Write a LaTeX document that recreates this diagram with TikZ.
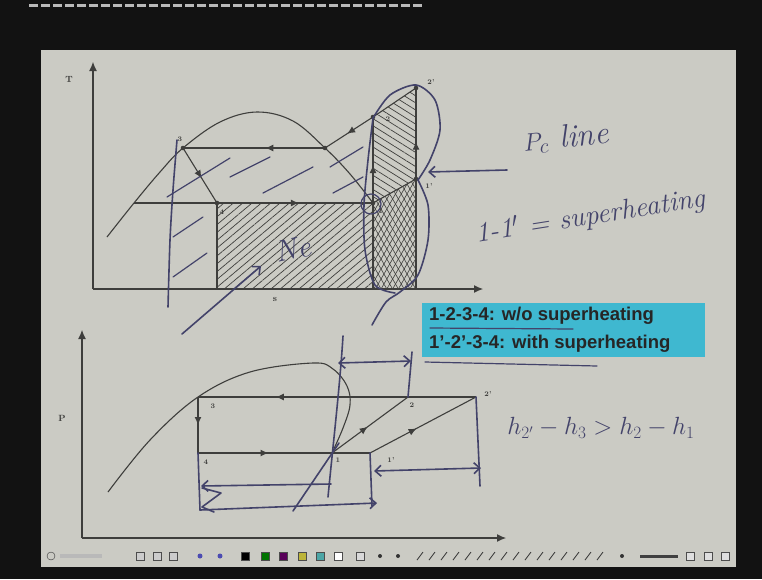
\documentclass[tikz,border=0pt]{standalone}
\usepackage{fontspec}
\setsansfont{Liberation Sans}
\usetikzlibrary{arrows.meta,positioning,patterns.meta,decorations.markings}

\definecolor{slidegray}{HTML}{CBCBC4}
\definecolor{printgray}{HTML}{3E3E3C}
\definecolor{ink}{HTML}{43436A}
\definecolor{notecyan}{HTML}{3FB8D0}

\begin{document}
\begin{tikzpicture}[
  x=1pt,y=-1pt,>=Latex,
  curve/.style={draw=printgray,line width=1.1pt},
  hand/.style={draw=ink,line width=1.6pt,line cap=round,line join=round},
  handarrow/.style={hand,-{Straight Barb[length=6pt,width=11pt]}},
  handboth/.style={hand,{Straight Barb[length=6pt,width=11pt]}-{Straight Barb[length=6pt,width=11pt]}},
  handtext/.style={text=ink,inner sep=0pt},
  flow/.style={postaction={decorate},decoration={markings,
    mark=at position #1 with {\arrow{Latex[length=8pt,width=7pt]}}}},
  flow/.default=0.5,
  num/.style={font=\fontsize{7}{8}\selectfont\bfseries,text=printgray,inner sep=1pt},
  axlabel/.style={font=\fontsize{9}{10}\selectfont\bfseries,text=printgray},
  hatchbelow/.style={pattern={Lines[angle=40,distance=6pt,line width=0.7pt]},pattern color=printgray},
  hatchabove/.style={pattern={Lines[angle=-32,distance=6pt,line width=0.7pt]},pattern color=printgray},
  crossA/.style={pattern={Lines[angle=60,distance=5pt,line width=0.6pt]},pattern color=printgray},
  crossB/.style={pattern={Lines[angle=-60,distance=5pt,line width=0.6pt]},pattern color=printgray},
  icon/.style={minimum size=8pt,inner sep=0pt,draw=gray!60!black,line width=0.5pt}
]
% screen and slide
\fill[black!93] (0,0) rectangle (762,579);
\fill[slidegray] (41,50) rectangle (736,567);
\draw[gray!55,line width=3pt,dash pattern=on 9pt off 3pt] (29,5) -- (422,5);
\useasboundingbox (0,0) rectangle (762,579);

% T-s chart
\coordinate (tO) at (93,289);
\coordinate (tTop) at (93,62);
\coordinate (tEnd) at (483,289);
\coordinate (t3) at (183,148);
\coordinate (tg) at (325,148);
\coordinate (tf) at (134,203);
\coordinate (t4) at (217,203);
\coordinate (t1) at (373,203);
\coordinate (t2) at (373,117);
\coordinate (t2s) at (416,88);
\coordinate (t1s) at (416,179);
\coordinate (t4b) at (217,289);
\coordinate (t1b) at (373,289);
\coordinate (t1sb) at (416,289);

\fill[hatchbelow] (t4) rectangle (t1b);
\fill[hatchabove] (t2) -- (t2s) -- (t1s) -- (t1) -- cycle;
\fill[crossA] (t1) -- (t1s) -- (t1sb) -- (t1b) -- cycle;
\fill[crossB] (t1) -- (t1s) -- (t1sb) -- (t1b) -- cycle;

\draw[curve,-{Latex[length=9pt,width=8pt]}] (tO) -- (tTop);
\draw[curve,-{Latex[length=9pt,width=8pt]}] (tO) -- (tEnd);
\node[axlabel] (tlabT) at (69,79) {T};
\node[axlabel] (tlabs) at (275,299) {s};

\draw[curve] plot[smooth,tension=0.6] coordinates {(107,237) (134,203) (160,172) (183,148) (220,122) (257,112) (293,121) (325,148) (350,174) (373,203)};
\draw[curve,flow=0.42] (tg) -- (t3);
\draw[curve,flow=0.55] (t3) -- (t4);
\draw[curve,flow=0.69] (tf) -- (t1);
\draw[curve] (t2s) -- (t2);
\draw[curve,flow=0.54] (t2) -- (tg);
\draw[curve] (t1b) -- (t1);
\draw[curve,flow=0.44] (t1) -- (t2);
\draw[curve] (t4b) -- (t4);
\draw[curve] (t1sb) -- (t1s);
\draw[curve,flow=0.41] (t1s) -- (t2s);
\draw[curve] (t1) -- (t1s);
\foreach \p in {t3,tg,t4,t1,t2,t2s,t1s} \fill[printgray] (\p) circle (2.3pt);

\node[num] (tn3) at (180,139) {3};
\node[num] (tn4) at (222,212) {4};
\node[num] (tn2) at (388,119) {2};
\node[num] (tn1) at (381,211) {1};
\node[num] (tn1s) at (429,186) {1'};
\node[num] (tn2s) at (431,82) {2'};

% handwriting on the T-s chart
\foreach \a/\b/\c/\d in {167/197/230/158, 230/177/270/157, 263/193/313/167,
  330/167/363/147, 333/193/363/177, 173/237/203/217, 173/277/207/253}
  \draw[hand,line width=1.2pt] (\a,\b) -- (\c,\d);
\draw[hand] plot[smooth] coordinates {(177,140) (173,190) (170,240) (168,307)};
\draw[hand] plot[smooth] coordinates {(373,118) (390,95) (416,85) (435,100) (440,130) (430,160) (418,180)};
\draw[hand] plot[smooth] coordinates {(418,180) (428,205) (428,240) (418,275) (400,292) (386,302) (372,325)};
\draw[hand] plot[smooth] coordinates {(373,118) (368,160) (364,205) (365,250) (375,285) (395,293)};
\draw[hand,line width=1.2pt] (371,204) circle (10pt);

\coordinate (qeTail) at (182,334);
\coordinate (qeTip) at (261,266);
\draw[handarrow] (qeTail) -- (qeTip);
\node[handtext,font=\fontsize{30}{32}\selectfont\itshape,rotate=12] (qe) at (293,249) {Ne};

\coordinate (pcTail) at (507,170);
\coordinate (pcTip) at (428,172);
\draw[handarrow] (pcTail) -- (pcTip);
\node[handtext,font=\fontsize{32}{34}\selectfont\itshape,rotate=6] (pcline) at (566,138) {$P_c$ line};
\node[handtext,font=\fontsize{28}{30}\selectfont\itshape,rotate=9] (superh) at (590,217) {1-1$'$ = superheating};

% note box
\node[fill=notecyan,anchor=north west,minimum width=283pt,minimum height=54pt,inner sep=0pt] (note) at (422,303) {};
\node[anchor=west,font=\sffamily\bfseries\fontsize{18.5}{20}\selectfont,text=black!85,inner sep=0pt] (noteA) at (429,316) {1-2-3-4: w/o superheating};
\node[anchor=west,font=\sffamily\bfseries\fontsize{18.5}{20}\selectfont,text=black!85,inner sep=0pt] (noteB) at (429,344) {1'-2'-3-4: with superheating};
\draw[hand,line width=1.2pt] (430,328) -- (573,329);
\draw[hand,line width=1.2pt] (425,362) -- (597,366);

% P-h chart
\coordinate (pO) at (82,538);
\coordinate (pTop) at (82,330);
\coordinate (pEnd) at (506,538);
\coordinate (p3) at (198,397);
\coordinate (p4) at (198,453);
\coordinate (p1) at (332,453);
\coordinate (p1s) at (370,453);
\coordinate (p2) at (408,397);
\coordinate (p2s) at (476,397);

\draw[curve,-{Latex[length=9pt,width=8pt]}] (pO) -- (pTop);
\draw[curve,-{Latex[length=9pt,width=8pt]}] (pO) -- (pEnd);
\node[axlabel] (plabP) at (62,418) {P};

\draw[curve] plot[smooth,tension=0.6] coordinates {(108,492) (150,440) (198,397) (250,372) (313,363) (333,369) (347,386) (350,405) (343,428) (332,453)};
\draw[curve,flow=0.72] (p2s) -- (p3);
\draw[curve,flow=0.5] (p3) -- (p4);
\draw[curve,flow=0.41] (p4) -- (p1s);
\draw[curve,flow=0.47] (p1) -- (p2);
\draw[curve,flow=0.44] (p1s) -- (p2s);

\node[num] (pn3) at (213,406) {3};
\node[num] (pn4) at (206,462) {4};
\node[num] (pn1) at (338,460) {1};
\node[num] (pn1s) at (391,460) {1'};
\node[num] (pn2) at (412,405) {2};
\node[num] (pn2s) at (488,394) {2'};

% handwriting on the P-h chart
\draw[hand] (343,336) .. controls (340,385) and (333,445) .. (328,497);
\draw[hand] (293,511) -- (339,443);
\coordinate (hTopL) at (338,363);
\coordinate (hTopR) at (411,361);
\draw[handboth] (hTopL) -- (hTopR);
\draw[hand] (p2) -- (412,352);
\draw[hand] (p2s) -- (480,486);
\draw[hand] (p1s) -- (372,506);
\coordinate (hMidL) at (374,471);
\coordinate (hMidR) at (481,468);
\draw[handboth] (hMidL) -- (hMidR);
\coordinate (hLowR) at (331,484);
\coordinate (hLowL) at (201,486);
\draw[handarrow] (hLowR) -- (hLowL);
\coordinate (hBotL) at (200,510);
\coordinate (hBotR) at (377,503);
\draw[handarrow] (hBotL) -- (hBotR);
\draw[hand] (p4) -- (hBotL);
\draw[hand] (202,488) -- (221,493) -- (202,507) -- (214,512);
\node[handtext,font=\fontsize{26}{28}\selectfont] (hdiff) at (601,428) {$h_{2'}-h_3>h_2-h_1$};

% toolbar
\node[circle,draw=gray!40!black,minimum size=8pt,inner sep=0pt] (tbRound) at (51,556) {};
\fill[gray!55] (60,554) rectangle (102,558);
\foreach \xx in {140,157,173} \node[icon,fill=gray!40] (tb\xx) at (\xx,556) {};
\foreach \xx in {200,220} \fill[gray!60!blue] (\xx,556) circle (2.5pt);
\foreach \xx/\cc in {245/black,265/green!45!black,283/violet!70!black,302/yellow!70!black,320/teal!70,338/white}
  \node[icon,fill=\cc] (sw\xx) at (\xx,556) {};
\node[icon,fill=gray!30] (tb360) at (360,556) {};
\foreach \xx in {380,398} \fill[black!80] (\xx,556) circle (2pt);
\foreach \xx in {420,432,...,600} \draw[gray!40!black,line width=0.8pt] (\xx-3,560) -- (\xx+3,552);
\fill[black!80] (622,556) circle (2pt);
\fill[gray!50!black] (640,555) rectangle (678,557.5);
\foreach \xx in {690,708,725} \node[icon,fill=gray!25] (tb\xx) at (\xx,556) {};
\end{tikzpicture}
\end{document}
